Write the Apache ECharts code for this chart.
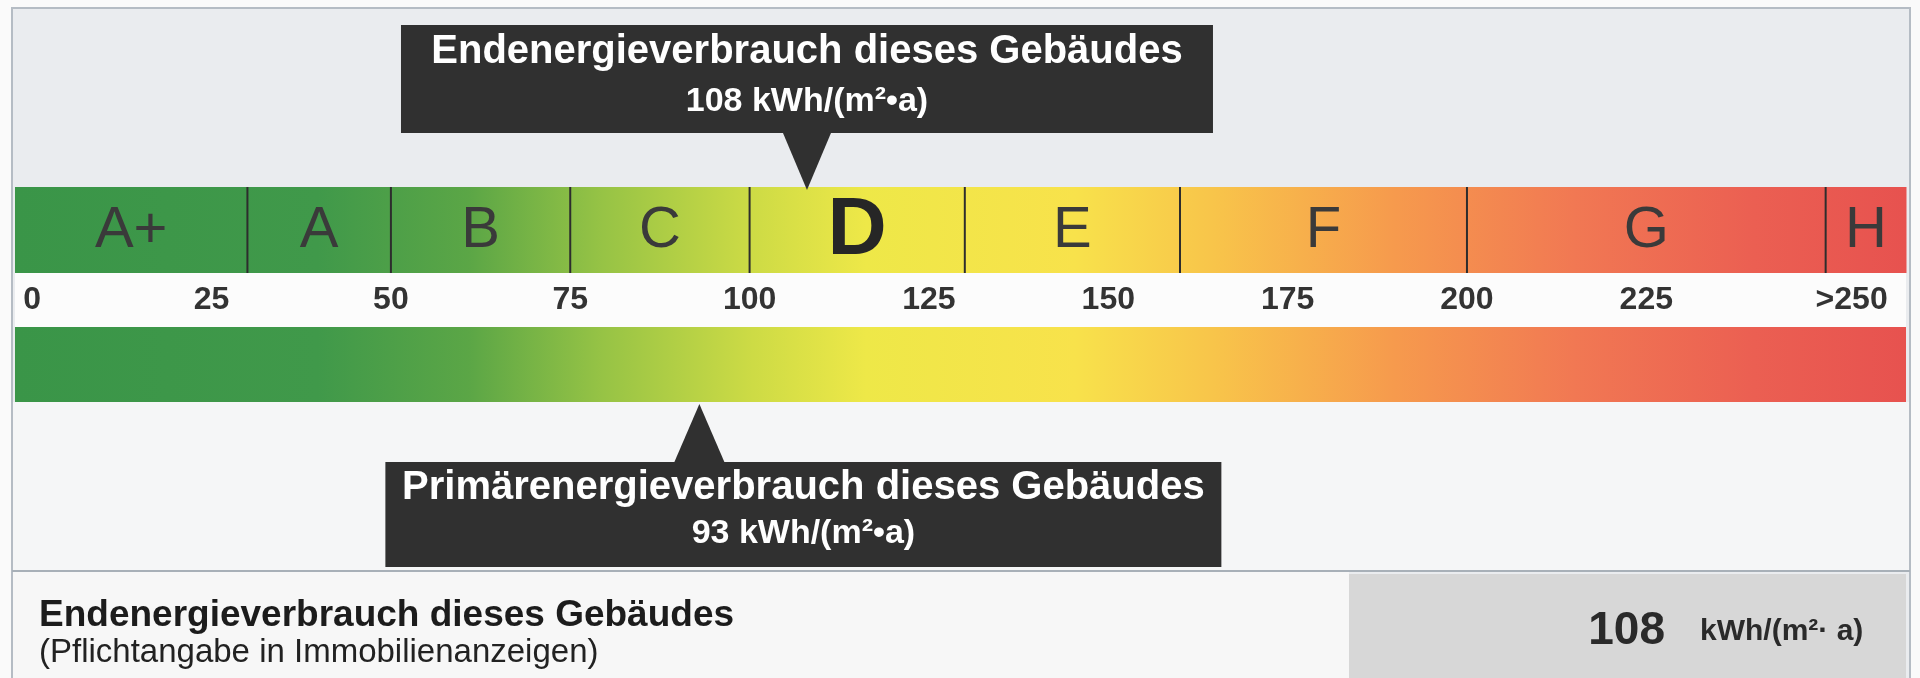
<!DOCTYPE html>
<html>
<head>
<meta charset="utf-8">
<title>Energieausweis</title>
<script src="https://cdn.jsdelivr.net/npm/echarts@6.0.0/dist/echarts.min.js"></script>
<style>
  html, body { margin: 0; padding: 0; background: #fafafa; }
  #chart { width: 1920px; height: 678px; }
</style>
</head>
<body>
<div id="chart"></div>
<script>
// Energieeffizienzklassen
var classNames = ['A+', 'A', 'B', 'C', 'D', 'E', 'F', 'G', 'H'];
var classStarts = [0, 30, 50, 75, 100, 130, 160, 200, 250];
// Skala
var tickValues = [0, 25, 50, 75, 100, 125, 150, 175, 200, 225, 250];
var tickLabels = ['0', '25', '50', '75', '100', '125', '150', '175', '200', '225', '>250'];
// Werte dieses Gebäudes
var endEnergy = [108];
var primaryEnergy = [93];
var unitText = 'kWh/(m²•a)';

var scaleMin = -2.4, scaleMax = 261.2;
var FONT = '"Liberation Sans", Arial, sans-serif';

var barStops = [
  { offset: 0, color: '#3a9548' },
  { offset: 0.16, color: '#40994a' },
  { offset: 0.24, color: '#5ba646' },
  { offset: 0.31, color: '#96c345' },
  { offset: 0.39, color: '#cddb45' },
  { offset: 0.45, color: '#eee848' },
  { offset: 0.56, color: '#f8e24b' },
  { offset: 0.635, color: '#f8c44a' },
  { offset: 0.73, color: '#f69a4d' },
  { offset: 0.825, color: '#f17853' },
  { offset: 0.92, color: '#eb5f52' },
  { offset: 1, color: '#e7524f' }
];

// Klasse des Endenergieverbrauchs
var currentIdx = 0;
for (var i = 0; i < classStarts.length; i++) {
  if (endEnergy[0] >= classStarts[i]) currentIdx = i;
}

var classData = classNames.map(function (n, i) {
  var s = i === 0 ? scaleMin : classStarts[i];
  var e = i < classStarts.length - 1 ? classStarts[i + 1] : scaleMax;
  return { name: n, value: [s, e] };
});

function bandFill(api) {
  var gx0 = api.coord([scaleMin, 0])[0];
  var gx1 = api.coord([scaleMax, 0])[0];
  return new echarts.graphic.LinearGradient(gx0, 0, gx1, 0, barStops, true);
}

function renderClass(params, api) {
  var p0 = api.coord([api.value(0), 1]);
  var p1 = api.coord([api.value(1), 0]);
  var idx = params.dataIndex;
  var children = [{
    type: 'rect',
    shape: { x: p0[0], y: p0[1], width: p1[0] - p0[0] + 0.5, height: p1[1] - p0[1] },
    style: { fill: bandFill(api) }
  }];
  if (idx > 0) {
    children.push({
      type: 'line',
      shape: { x1: p0[0], y1: p0[1], x2: p0[0], y2: p1[1] },
      style: { stroke: '#2d2d2d', lineWidth: 2 }
    });
  }
  var cur = idx === currentIdx;
  children.push({
    type: 'text',
    style: {
      text: classNames[idx],
      x: (p0[0] + p1[0]) / 2,
      y: (p0[1] + p1[1]) / 2 + 1,
      align: 'center', verticalAlign: 'middle',
      textAlign: 'center', textVerticalAlign: 'middle',
      fontFamily: FONT,
      fontSize: cur ? 82 : 58,
      fontWeight: cur ? 'bold' : 'normal',
      fill: cur ? '#262626' : '#3a3a3a'
    }
  });
  return { type: 'group', children: children };
}

function renderBar(params, api) {
  var p0 = api.coord([api.value(0), 1]);
  var p1 = api.coord([api.value(1), 0]);
  return {
    type: 'rect',
    shape: { x: p0[0], y: p0[1], width: p1[0] - p0[0], height: p1[1] - p0[1] },
    style: { fill: bandFill(api) }
  };
}

function txt(t, x, y, font, fill, align) {
  return {
    type: 'text', z: 1,
    style: {
      text: t, x: x, y: y, font: font, fill: fill,
      align: align || 'left', verticalAlign: 'middle',
      textAlign: align || 'left', textVerticalAlign: 'middle'
    }
  };
}

var chart = echarts.init(document.getElementById('chart'));

var grids = [
  { left: 15, right: 14, top: 187, height: 86 },
  { left: 15, right: 14, top: 327, height: 75 },
  { left: 15, right: 14, top: 133, height: 57 },
  { left: 15, right: 14, top: 404, height: 58 }
];

var option = {
  backgroundColor: '#fafafa',
  animation: false,
  graphic: [
    { type: 'rect', z: 0, shape: { x: 12, y: 8, width: 1898, height: 680 },
      style: { fill: '#eaecef', stroke: '#b5bcc4', lineWidth: 2 } },
    { type: 'rect', z: 0, shape: { x: 15, y: 273, width: 1891, height: 54 }, style: { fill: '#fcfcfc' } },
    { type: 'rect', z: 0, shape: { x: 13, y: 402, width: 1896, height: 168 }, style: { fill: '#f5f6f7' } },
    { type: 'rect', z: 0, shape: { x: 13, y: 572, width: 1336, height: 106 }, style: { fill: '#f7f7f7' } },
    { type: 'rect', z: 0, shape: { x: 1349, y: 574, width: 557, height: 104 }, style: { fill: '#d7d7d7' } },
    { type: 'line', z: 0, shape: { x1: 12, y1: 571, x2: 1910, y2: 571 }, style: { stroke: '#a8b0b8', lineWidth: 2 } },
    txt('Endenergieverbrauch dieses Gebäudes', 39, 616, 'bold 37px ' + FONT, '#1c1c1c'),
    txt('(Pflichtangabe in Immobilienanzeigen)', 39, 653, '33px ' + FONT, '#222222'),
    txt(String(endEnergy[0]), 1665, 631, 'bold 46px ' + FONT, '#2a2a2a', 'right'),
    txt('kWh/(m²· a)', 1700, 632, 'bold 30px ' + FONT, '#2a2a2a')
  ],
  grid: grids,
  xAxis: grids.map(function (g, i) {
    return {
      type: 'value', gridIndex: i, min: scaleMin, max: scaleMax,
      show: i === 0,
      axisLine: { show: false }, axisTick: { show: false }, splitLine: { show: false },
      axisLabel: i === 0 ? {
        customValues: tickValues,
        margin: 11,
        fontFamily: FONT, fontWeight: 'bold', fontSize: 32, color: '#333333',
        formatter: function (v) {
          var k = tickValues.indexOf(v);
          var t = tickLabels[k];
          return k === tickValues.length - 1 ? '{last|' + t + '}' : t;
        },
        rich: {
          last: { fontFamily: FONT, fontWeight: 'bold', fontSize: 32, color: '#333333', padding: [0, 0, 0, 52] }
        }
      } : { show: false }
    };
  }),
  yAxis: grids.map(function (g, i) {
    return { type: 'value', gridIndex: i, min: 0, max: 1, show: false };
  }),
  series: [
    {
      type: 'custom', xAxisIndex: 0, yAxisIndex: 0, silent: true,
      renderItem: renderClass, data: classData
    },
    {
      type: 'custom', xAxisIndex: 1, yAxisIndex: 1, silent: true,
      renderItem: renderBar, data: [[scaleMin, scaleMax]]
    },
    {
      type: 'scatter', xAxisIndex: 2, yAxisIndex: 2, silent: true,
      symbol: 'triangle', symbolRotate: 180, symbolSize: [48, 57],
      itemStyle: { color: '#303030', opacity: 1 },
      data: endEnergy.map(function (v) { return [v, 0.5]; }),
      label: {
        show: true, position: 'top', distance: 0,
        backgroundColor: '#303030', width: 812, padding: [5, 0, 3, 0],
        formatter: '{t|Endenergieverbrauch dieses Gebäudes}\n{v|' + endEnergy[0] + ' ' + unitText + '}',
        rich: {
          t: { fontFamily: FONT, fontWeight: 'bold', fontSize: 40, color: '#ffffff', lineHeight: 44, align: 'center' },
          v: { fontFamily: FONT, fontWeight: 'bold', fontSize: 34, color: '#ffffff', lineHeight: 56, align: 'center' }
        }
      }
    },
    {
      type: 'scatter', xAxisIndex: 3, yAxisIndex: 3, silent: true,
      symbol: 'triangle', symbolSize: [50, 58],
      itemStyle: { color: '#303030', opacity: 1 },
      data: primaryEnergy.map(function (v) { return [v, 0.5]; }),
      label: {
        show: true, position: 'bottom', distance: 0, offset: [104, 0],
        backgroundColor: '#303030', width: 836, padding: [4, 0, 9, 0],
        formatter: '{t|Primärenergieverbrauch dieses Gebäudes}\n{v|' + primaryEnergy[0] + ' ' + unitText + '}',
        rich: {
          t: { fontFamily: FONT, fontWeight: 'bold', fontSize: 40, color: '#ffffff', lineHeight: 44, align: 'center' },
          v: { fontFamily: FONT, fontWeight: 'bold', fontSize: 34, color: '#ffffff', lineHeight: 48, align: 'center' }
        }
      }
    }
  ]
};
chart.setOption(option);
window.addEventListener('resize', function () {
  chart.resize();
});
</script>
</body>
</html>
